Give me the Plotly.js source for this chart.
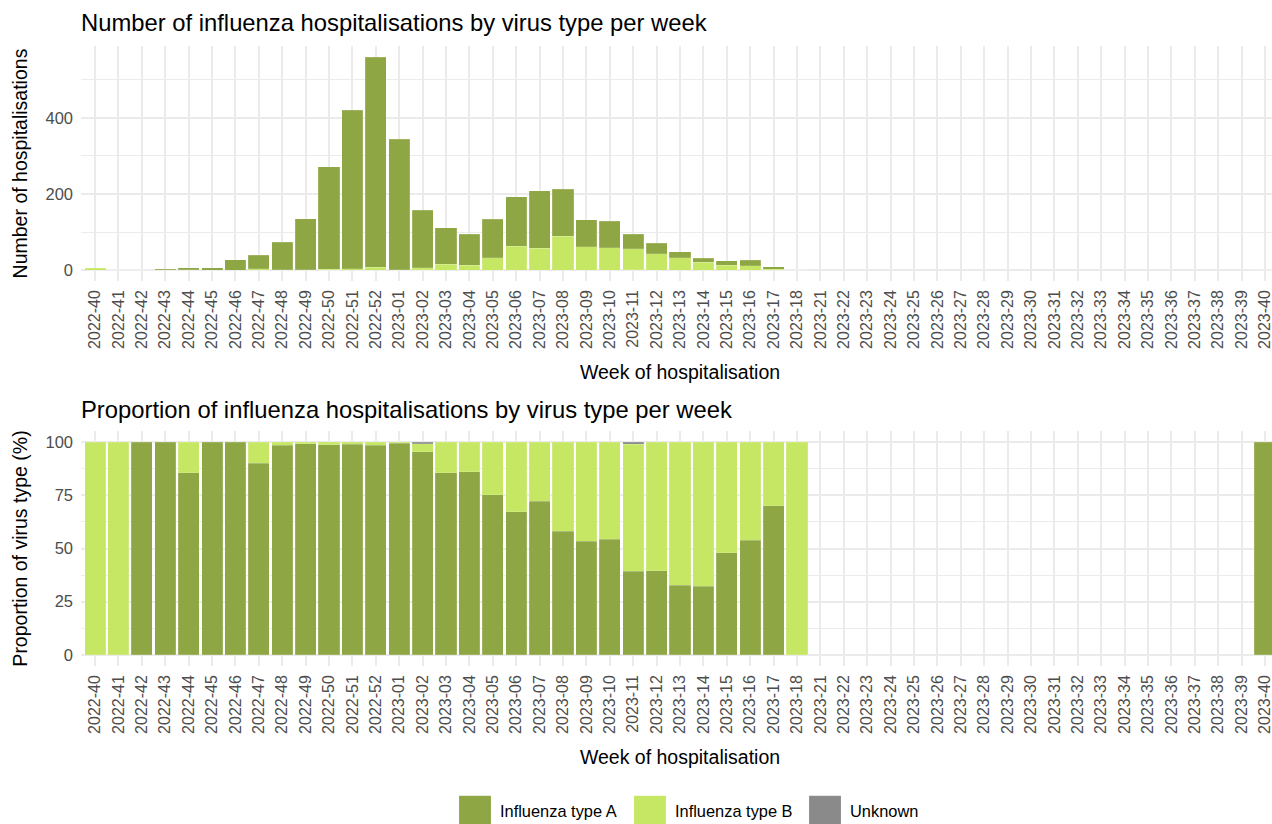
<!DOCTYPE html>
<html>
<head>
<meta charset="utf-8">
<script src="https://cdn.plot.ly/plotly-3.0.1.min.js"></script>
<style>
  html, body { margin: 0; padding: 0; overflow: hidden; background: #ffffff; }
  #chart { width: 1280px; height: 840px; }
</style>
</head>
<body>
<div id="chart"></div>
<script>
// ---- Data ----
const weeks = [
  '2022-40','2022-41','2022-42','2022-43','2022-44','2022-45','2022-46','2022-47','2022-48','2022-49',
  '2022-50','2022-51','2022-52','2023-01','2023-02','2023-03','2023-04','2023-05','2023-06','2023-07',
  '2023-08','2023-09','2023-10','2023-11','2023-12','2023-13','2023-14','2023-15','2023-16','2023-17',
  '2023-18','2023-21','2023-22','2023-23','2023-24','2023-25','2023-26','2023-27','2023-28','2023-29',
  '2023-30','2023-31','2023-32','2023-33','2023-34','2023-35','2023-36','2023-37','2023-38','2023-39',
  '2023-40'
];
const typeA = [
  0, 0, 2, 3, 6, 7, 28, 36, 72, 134,
  268, 416, 550, 341, 150, 95, 81, 101, 130, 151,
  123, 71, 70, 37, 28, 16, 10, 12, 14, 7,
  0, 0, 0, 0, 0, 0, 0, 0, 0, 0,
  0, 0, 0, 0, 0, 0, 0, 0, 0, 0,
  2
];
const typeB = [
  5, 1, 0, 0, 1, 0, 0, 4, 1, 1,
  3, 4, 8, 2, 6, 16, 13, 33, 63, 58,
  89, 62, 59, 56, 43, 33, 21, 13, 12, 3,
  2, 0, 0, 0, 0, 0, 0, 0, 0, 0,
  0, 0, 0, 0, 0, 0, 0, 0, 0, 0,
  0
];
const unknown = [
  0, 0, 0, 0, 0, 0, 0, 0, 0, 0,
  0, 0, 0, 0, 1, 0, 0, 0, 0, 0,
  0, 0, 0, 1, 0, 0, 0, 0, 0, 0,
  0, 0, 0, 0, 0, 0, 0, 0, 0, 0,
  0, 0, 0, 0, 0, 0, 0, 0, 0, 0,
  0
];
const seriesNames = ['Influenza type A', 'Influenza type B', 'Unknown'];

// ---- Styling ----
const COL_A = '#8FA645';
const COL_B = '#C5E764';
const COL_U = '#8A8A8A';
const FONT = 'Liberation Sans, Arial, Helvetica, sans-serif';
const GRID = '#EBEBEB';
const TICKCOL = '#4D4D4D';

const totals = weeks.map((w, i) => typeA[i] + typeB[i] + unknown[i]);
const pct = arr => arr.map((v, i) => (totals[i] > 0 && v > 0) ? v / totals[i] * 100 : null);
const cnt = arr => arr.map(v => v > 0 ? v : null);

const barLine = { color: 'rgba(255,255,255,0.5)', width: 0.3 };

const traces = [
  // Top chart (count): Unknown at bottom, then B, then A
  { type: 'bar', x: weeks, y: cnt(unknown), name: seriesNames[2], marker: { color: COL_U, line: barLine },
    xaxis: 'x', yaxis: 'y', width: 0.9, legendgroup: 'u', showlegend: false },
  { type: 'bar', x: weeks, y: cnt(typeB), name: seriesNames[1], marker: { color: COL_B, line: barLine },
    xaxis: 'x', yaxis: 'y', width: 0.9, legendgroup: 'b', showlegend: false },
  { type: 'bar', x: weeks, y: cnt(typeA), name: seriesNames[0], marker: { color: COL_A, line: barLine },
    xaxis: 'x', yaxis: 'y', width: 0.9, legendgroup: 'a', showlegend: false },
  // Bottom chart (proportion): A at bottom, then B, then Unknown
  { type: 'bar', x: weeks, y: pct(typeA), name: seriesNames[0], marker: { color: COL_A, line: barLine },
    xaxis: 'x2', yaxis: 'y2', width: 0.9, legendgroup: 'a', legendrank: 1, showlegend: true, legendwidth: 120 },
  { type: 'bar', x: weeks, y: pct(typeB), name: seriesNames[1], marker: { color: COL_B, line: barLine },
    xaxis: 'x2', yaxis: 'y2', width: 0.9, legendgroup: 'b', legendrank: 2, showlegend: true, legendwidth: 120 },
  { type: 'bar', x: weeks, y: pct(unknown), name: seriesNames[2], marker: { color: COL_U, line: barLine },
    xaxis: 'x2', yaxis: 'y2', width: 0.9, legendgroup: 'u', legendrank: 3, showlegend: true }
];

// figure is slightly larger than the window; the page crops it like the reference
const H = 840;
const xCommon = {
  type: 'category',
  range: [-0.6, weeks.length - 0.4],
  tickmode: 'linear', tick0: 0, dtick: 1,
  tickangle: -90,
  ticks: '',
  ticklabelstandoff: 5,
  tickfont: { family: FONT, size: 16, color: TICKCOL },
  showgrid: true, gridcolor: GRID, gridwidth: 2,
  zeroline: false, showline: false,
  automargin: false,
  fixedrange: true
};
const yCommon = {
  ticks: '',
  ticklabelstandoff: 7,
  tickfont: { family: FONT, size: 16.5, color: TICKCOL },
  showgrid: true, gridcolor: GRID, gridwidth: 2,
  zeroline: false, showline: false,
  automargin: false,
  fixedrange: true
};
const axTitleFont = { family: FONT, size: 19.5, color: '#000000' };

const layout = {
  width: 1280,
  height: H,
  margin: { l: 81, r: 1, t: 0, b: 0 },
  paper_bgcolor: '#ffffff',
  plot_bgcolor: '#ffffff',
  barmode: 'stack',
  bargap: 0.1,
  font: { family: FONT, color: '#000000' },
  title: {
    text: 'Number of influenza hospitalisations by virus type per week',
    font: { family: FONT, size: 23.8, color: '#000000' },
    xref: 'paper', x: 0, xanchor: 'left',
    yref: 'container', y: 1 - 23 / H, yanchor: 'middle'
  },
  xaxis: Object.assign({}, xCommon, {
    anchor: 'y', domain: [0, 1],
    title: { text: 'Week of hospitalisation', font: axTitleFont, standoff: 17 }
  }),
  yaxis: Object.assign({}, yCommon, {
    anchor: 'x', domain: [(H - 281) / H, (H - 46) / H],
    range: [-28, 588],
    tickmode: 'array', tickvals: [0, 200, 400], ticktext: ['0', '200', '400'],
    minor: { tickmode: 'array', tickvals: [100, 300, 500], showgrid: true, gridcolor: GRID, gridwidth: 1, ticks: '' },
    title: { text: 'Number of hospitalisations', font: axTitleFont, standoff: 12 }
  }),
  xaxis2: Object.assign({}, xCommon, {
    anchor: 'y2', domain: [0, 1],
    title: { text: 'Week of hospitalisation', font: axTitleFont, standoff: 17 }
  }),
  yaxis2: Object.assign({}, yCommon, {
    anchor: 'x2', domain: [(H - 666) / H, (H - 431) / H],
    range: [-5.25, 105.25],
    tickmode: 'array', tickvals: [0, 25, 50, 75, 100], ticktext: ['0', '25', '50', '75', '100'],
    minor: { tickmode: 'array', tickvals: [12.5, 37.5, 62.5, 87.5], showgrid: true, gridcolor: GRID, gridwidth: 1, ticks: '' },
    title: { text: 'Proportion of virus type (%)', font: axTitleFont, standoff: 12 }
  }),
  annotations: [
    {
      text: 'Proportion of influenza hospitalisations by virus type per week',
      xref: 'paper', yref: 'paper', x: 0, y: (H - 409) / H, xshift: -2,
      xanchor: 'left', yanchor: 'middle', showarrow: false,
      font: { family: FONT, size: 23.8, color: '#000000' }
    }
  ],
  legend: {
    orientation: 'h',
    x: (450 - 81) / 1198, xanchor: 'left',
    y: (H - 811) / H, yanchor: 'middle',
    font: { family: FONT, size: 16.4, color: '#000000' },
    bgcolor: 'rgba(0,0,0,0)',
    itemwidth: 40,
    traceorder: 'normal',
    itemclick: false, itemdoubleclick: false
  },
  showlegend: true
};

Plotly.newPlot('chart', traces, layout, { displayModeBar: false, responsive: false })
  .then(function (gd) {
    // enlarge legend keys to resemble the large square keys of the reference
    gd.querySelectorAll('.legend .legendpoints path').forEach(function (p) {
      p.setAttribute('d', 'M16,15H-16V-15H16Z');
    });
  });
</script>
</body>
</html>
